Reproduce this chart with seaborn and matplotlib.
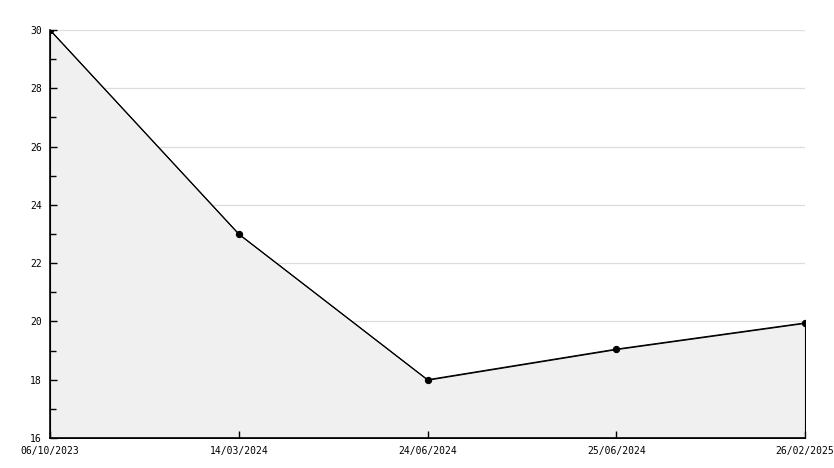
import matplotlib
matplotlib.use("Agg")
import matplotlib.pyplot as plt
import seaborn as sns
import pandas as pd
from matplotlib.ticker import MultipleLocator

# data
dates = ["06/10/2023", "14/03/2024", "24/06/2024", "25/06/2024", "26/02/2025"]
values = [30, 23, 18, 19.05, 19.95]

df = pd.DataFrame({"date": dates, "value": values})
df["pos"] = range(len(df))

sns.set_style("white")
plt.rcParams["font.family"] = ["DejaVu Sans Mono", "DejaVu Sans"]

fig = plt.figure(figsize=(8.34, 4.68), dpi=100)
rect = [50 / 834, 30 / 468, 755 / 834, 408 / 468]
ax = fig.add_axes(rect)

# grid sits under the filled area, so it only shows above the line
ax.fill_between(df["pos"], df["value"], 16, facecolor="#f0f0f0",
                edgecolor="black", linewidth=0.8, zorder=1)
sns.lineplot(data=df, x="pos", y="value", ax=ax, color="black", linewidth=0.8,
             marker="o", markersize=4.5, markeredgecolor="black", zorder=3)

ax.set_xlim(0, len(dates) - 1)
ax.set_ylim(16, 30)
ax.yaxis.set_major_locator(MultipleLocator(2))
ax.grid(axis="y", which="major", color="#dddddd", linewidth=0.9)
ax.set_axisbelow(True)
ax.tick_params(left=False, bottom=False, labelleft=False, labelbottom=False)
ax.set_xlabel("")
ax.set_ylabel("")
for s in ax.spines.values():
    s.set_visible(False)

# overlay axes for spines, inward ticks and labels
ax2 = fig.add_axes(rect, sharex=ax, sharey=ax)
ax2.patch.set_visible(False)
ax2.grid(False)
ax2.yaxis.set_major_locator(MultipleLocator(2))
ax2.yaxis.set_minor_locator(MultipleLocator(1))
ax2.set_xticks(df["pos"])
ax2.set_xticklabels(dates)
ax2.tick_params(axis="y", which="major", direction="in", length=5, width=1,
                labelsize=7, pad=6, left=True, color="black", labelcolor="black")
ax2.tick_params(axis="y", which="minor", direction="in", length=4, width=1,
                left=True, color="black")
ax2.tick_params(axis="x", direction="in", length=5, width=1, labelsize=7, pad=6,
                bottom=True, color="black", labelcolor="black")
for s in ["top", "right"]:
    ax2.spines[s].set_visible(False)
for s in ["left", "bottom"]:
    ax2.spines[s].set_visible(True)
    ax2.spines[s].set_color("black")
    ax2.spines[s].set_linewidth(1.2)

fig.savefig("out.png", dpi=100)
